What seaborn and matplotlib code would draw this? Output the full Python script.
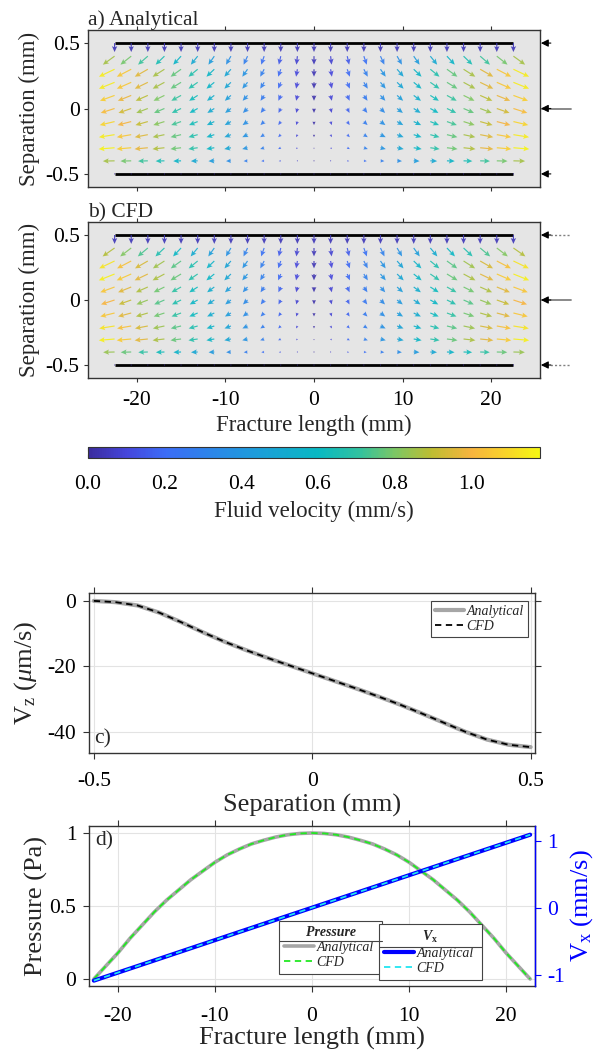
import numpy as np
import pandas as pd
import matplotlib
matplotlib.use("Agg")
import matplotlib.pyplot as plt
import seaborn as sns
from matplotlib.colors import LinearSegmentedColormap, Normalize
from matplotlib.cm import ScalarMappable
from matplotlib.lines import Line2D

# ---------------- data ----------------
# quiver grid (panels a, b)
frac_x = np.linspace(-22.5, 22.5, 25)          # mm along fracture
sep_rows = [0.5, 0.4, 0.3, 0.2, 0.1, 0.0, -0.1, -0.2, -0.3, -0.4, -0.5]
# horizontal velocity at the fracture ends (mm/s) per row, read from arrows
ux_end_analytical = [0.0, 0.86, 1.15, 1.15, 1.07, 1.02, 1.09, 1.15, 1.17, 0.86, 0.0]
ux_end_cfd = [0.0, 0.88, 1.13, 1.16, 1.05, 1.00, 1.05, 1.13, 1.16, 0.84, 0.0]
# vertical velocity (mm/s) per row
vz_rows_analytical = [-0.0446, -0.0423, -0.0371, -0.0316, -0.0267, -0.0221,
                      -0.0175, -0.0125, -0.0065, -0.0014, 0.0]
vz_rows_cfd = [-0.0446, -0.0421, -0.0369, -0.0318, -0.0265, -0.0222,
               -0.0176, -0.0123, -0.0067, -0.0015, 0.0]
plate_x = [-22.5, 22.5]
plate_y = [0.5, -0.5]
inlet_y = [0.5, 0.0, -0.5]
cbar_ticks = [0.0, 0.2, 0.4, 0.6, 0.8, 1.0]
vel_max = 1.18

# panel c: Vz across separation (um/s)
sep_c = [-0.5, -0.45, -0.4, -0.35, -0.3, -0.25, -0.2, -0.15, -0.1, -0.05, 0.0,
         0.05, 0.1, 0.15, 0.2, 0.25, 0.3, 0.35, 0.4, 0.45, 0.5]
vz_analytical = [0.0, -0.4, -1.4, -3.6, -6.5, -9.6, -12.5, -15.1, -17.5, -19.8, -22.1,
                 -24.4, -26.7, -29.1, -31.6, -34.3, -37.1, -39.9, -42.3, -43.9, -44.6]
vz_cfd = [0.0, -0.4, -1.4, -3.6, -6.5, -9.6, -12.5, -15.1, -17.5, -19.8, -22.1,
          -24.4, -26.7, -29.1, -31.6, -34.3, -37.1, -39.9, -42.3, -43.9, -44.6]

# panel d: pressure and Vx along fracture
len_d = [-22.5, -21.25, -20, -18.75, -17.5, -16.25, -15, -13.75, -12.5, -11.25,
         -10, -8.75, -7.5, -6.25, -5, -3.75, -2.5, -1.25, 0,
         1.25, 2.5, 3.75, 5, 6.25, 7.5, 8.75, 10, 11.25, 12.5,
         13.75, 15, 16.25, 17.5, 18.75, 20, 21.25, 22.5]
p_analytical = [0.0, 0.09, 0.18, 0.28, 0.37, 0.46, 0.54, 0.61, 0.68, 0.74,
                0.80, 0.85, 0.89, 0.925, 0.95, 0.972, 0.988, 0.997, 1.0,
                0.997, 0.988, 0.972, 0.95, 0.925, 0.89, 0.85, 0.80, 0.74, 0.68,
                0.61, 0.54, 0.46, 0.37, 0.28, 0.18, 0.09, 0.0]
p_cfd = [0.0, 0.09, 0.18, 0.28, 0.37, 0.46, 0.54, 0.61, 0.68, 0.74,
         0.80, 0.85, 0.89, 0.925, 0.95, 0.972, 0.988, 0.997, 1.0,
         0.997, 0.988, 0.972, 0.95, 0.925, 0.89, 0.85, 0.80, 0.74, 0.68,
         0.61, 0.54, 0.46, 0.37, 0.28, 0.18, 0.09, 0.0]
len_v = [-22.5, -15, -7.5, 0, 7.5, 15, 22.5]
vx_analytical = [-1.09, -0.727, -0.363, 0.0, 0.363, 0.727, 1.09]
vx_cfd = [-1.09, -0.727, -0.363, 0.0, 0.363, 0.727, 1.09]

# ---------------- style ----------------
sns.set_theme(style="white")
plt.rcParams["font.family"] = ["Liberation Serif", "DejaVu Serif"]
plt.rcParams["mathtext.fontset"] = "custom"
plt.rcParams["mathtext.rm"] = "Liberation Serif"
plt.rcParams["mathtext.it"] = "Liberation Serif:italic"
plt.rcParams["mathtext.bf"] = "Liberation Serif:bold"
plt.rcParams["axes.unicode_minus"] = False

parula = LinearSegmentedColormap.from_list("parula_like", [
    (0.0, "#3B2C9E"), (0.085, "#4546DC"), (0.17, "#3C6CF6"), (0.34, "#2196E0"),
    (0.51, "#08B9C2"), (0.60, "#30C2A0"), (0.68, "#7CC764"), (0.76, "#BDBD32"),
    (0.85, "#F7B43E"), (0.92, "#F8D12B"), (1.0, "#F5F713")])
norm = Normalize(0, vel_max)

W, H = 599, 1058
fig = plt.figure(figsize=(W / 100, H / 100), dpi=100)


def px_axes(l, t, r, b):
    return fig.add_axes([l / W, 1 - b / H, (r - l) / W, (b - t) / H])


FRAME = "#333333"
TICK_FS = 15.5


def style_frame(ax):
    for s in ax.spines.values():
        s.set_visible(True)
        s.set_color(FRAME)
        s.set_linewidth(1.0)


def draw_field(ax, ux_end, vz_rows, title, dotted_side):
    ax.set_facecolor("#E5E5E5")
    X, Y = np.meshgrid(frac_x, sep_rows)
    U = np.outer(ux_end, frac_x / frac_x.max())
    V = np.repeat(np.array(vz_rows)[:, None], len(frac_x), axis=1)
    M = np.hypot(U, V)
    ax.quiver(X, Y, U, V, M, cmap=parula, norm=norm, angles="xy",
              scale_units="xy", scale=0.65, width=0.0026, headwidth=4.5,
              headlength=5, headaxislength=4.2, pivot="tail", alpha=0.9,
              zorder=3)
    for yv in plate_y:
        ax.plot(plate_x, [yv, yv], color="black", lw=2, zorder=2,
                solid_capstyle="butt")
    ax.set_xlim(-25.5, 25.5)
    ax.set_ylim(-0.6, 0.6)
    ax.set_xticks([-20, -10, 0, 10, 20])
    ax.set_yticks([0.5, 0, -0.5])
    ax.set_yticklabels(["0.5", "0", "-0.5"])
    ax.tick_params(axis="x", direction="out", length=3, width=0.8, top=True,
                   bottom=True, labelsize=TICK_FS, colors=FRAME, labelcolor="black",
                   pad=6)
    ax.tick_params(axis="y", direction="out", length=3, width=0.8, left=True,
                   right=False, labelsize=TICK_FS, colors=FRAME, labelcolor="black",
                   pad=3)
    style_frame(ax)
    ax.set_ylabel("Separation (mm)", fontsize=16.5, labelpad=4)
    ax.text(0.0, 1.03, title, transform=ax.transAxes, fontsize=15.5,
            va="baseline", ha="left")
    trans = ax.get_yaxis_transform()
    for yv in inlet_y:
        if yv == 0:
            ax.plot([1.004, 1.068], [yv, yv], transform=trans, color="#808080",
                    lw=1.3, clip_on=False)
        elif dotted_side:
            ax.plot([1.004, 1.068], [yv, yv], transform=trans, color="#808080",
                    lw=1.0, ls=(0, (1.5, 1.5)), clip_on=False)
        ax.annotate("", xy=(1.002, yv), xycoords=trans, xytext=(1.024, yv),
                    textcoords=trans,
                    arrowprops=dict(arrowstyle="-|>", color="black", lw=0.8,
                                    mutation_scale=11, shrinkA=0, shrinkB=0))


# ---------------- panel a ----------------
ax_a = px_axes(88, 30, 540, 187)
draw_field(ax_a, ux_end_analytical, vz_rows_analytical, "a) Analytical", False)
ax_a.set_xticklabels([])

# ---------------- panel b ----------------
ax_b = px_axes(88, 222, 540, 378)
draw_field(ax_b, ux_end_cfd, vz_rows_cfd, "b) CFD", True)
ax_b.set_xticklabels(["-20", "-10", "0", "10", "20"])
ax_b.set_xlabel("Fracture length (mm)", fontsize=16.5, labelpad=4)

# ---------------- colorbar ----------------
cax = px_axes(88, 447, 540, 458)
cb = fig.colorbar(ScalarMappable(norm=norm, cmap=parula), cax=cax,
                  orientation="horizontal", ticks=cbar_ticks)
cb.ax.set_xticklabels([f"{t:.1f}" for t in cbar_ticks])
cb.ax.tick_params(direction="in", length=3, width=0.8, top=True, bottom=True,
                  labelsize=TICK_FS, colors="#555555", labelcolor="black", pad=12)
cb.outline.set_edgecolor(FRAME)
cb.outline.set_linewidth(0.8)
cb.set_label("Fluid velocity (mm/s)", fontsize=16.5, labelpad=5)

# ---------------- panel c ----------------
ax_c = px_axes(89, 593, 535, 753)
df_c = pd.DataFrame({"sep": sep_c, "ana": vz_analytical, "cfd": vz_cfd})
sns.lineplot(data=df_c, x="sep", y="ana", ax=ax_c, color="#A6A6A6", lw=3,
             label="Analytical")
sns.lineplot(data=df_c, x="sep", y="cfd", ax=ax_c, color="black", lw=1.3,
             ls=(0, (3.5, 2.5)), label="CFD")
ax_c.set_xlim(-0.511, 0.51)
ax_c.set_ylim(-46.4, 2.4)
ax_c.set_xticks([-0.5, 0, 0.5])
ax_c.set_xticklabels(["-0.5", "0", "0.5"])
ax_c.set_yticks([0, -20, -40])
ax_c.set_yticklabels(["0", "-20", "-40"])
ax_c.grid(True, color="#E3E3E3", lw=0.8)
ax_c.tick_params(axis="x", direction="out", length=4, width=0.8, top=True,
                 bottom=True, labelsize=TICK_FS, colors=FRAME,
                 labelcolor="black", pad=10)
ax_c.tick_params(axis="y", direction="out", length=4, width=0.8, right=True,
                 left=True, labelsize=TICK_FS, colors=FRAME,
                 labelcolor="black", pad=5)
style_frame(ax_c)
ax_c.set_xlabel("Separation (mm)", fontsize=19, labelpad=2)
ax_c.set_ylabel(r"V$_{\rm z}$ ($\mu$m/s)", fontsize=19, labelpad=6)
ax_c.text(0.012, 0.03, "c)", transform=ax_c.transAxes, fontsize=15.5,
          va="bottom", ha="left")
leg_c = ax_c.legend(loc="upper right", bbox_to_anchor=(0.984, 0.95),
                    borderaxespad=0, prop={"style": "italic", "size": 10},
                    handlelength=2.1, handletextpad=0.15, borderpad=0.3,
                    labelspacing=0.15, fancybox=False, framealpha=1,
                    edgecolor="#444444")
leg_c.get_frame().set_linewidth(0.8)

# ---------------- panel d ----------------
ax_d = px_axes(89, 826, 535, 986)
ax_d2 = ax_d.twinx()
df_d = pd.DataFrame({"x": len_d, "pa": p_analytical, "pc": p_cfd})
df_v = pd.DataFrame({"x": len_v, "va": vx_analytical, "vc": vx_cfd})
sns.lineplot(data=df_d, x="x", y="pa", ax=ax_d, color="#A6A6A6", lw=2.6,
             legend=False)
sns.lineplot(data=df_d, x="x", y="pc", ax=ax_d, color="#22E822", lw=1.3,
             ls=(0, (3.5, 2.5)), legend=False)
sns.lineplot(data=df_v, x="x", y="va", ax=ax_d2, color="#0000FF", lw=3,
             legend=False)
sns.lineplot(data=df_v, x="x", y="vc", ax=ax_d2, color="#22E5F0", lw=1.3,
             ls=(0, (3.5, 2.5)), legend=False)
ax_d.set_xlim(-23, 23)
ax_d.set_ylim(-0.048, 1.048)
ax_d2.set_ylim(-1.17, 1.22)
ax_d.set_xticks([-20, -10, 0, 10, 20])
ax_d.set_xticklabels(["-20", "-10", "0", "10", "20"])
ax_d.set_yticks([0, 0.5, 1])
ax_d.set_yticklabels(["0", "0.5", "1"])
ax_d2.set_yticks([-1, 0, 1])
ax_d2.set_yticklabels(["-1", "0", "1"])
ax_d.set_xlabel("")
ax_d2.set_xlabel("")
ax_d.grid(True, color="#E3E3E3", lw=0.8)
ax_d.tick_params(axis="x", direction="out", length=4, width=0.8, top=True,
                 bottom=True, labelsize=TICK_FS, colors=FRAME,
                 labelcolor="black", pad=11)
ax_d.tick_params(axis="y", direction="out", length=4, width=0.8, left=True,
                 right=False, labelsize=TICK_FS, colors=FRAME,
                 labelcolor="black", pad=5)
ax_d2.tick_params(direction="out", length=4, width=0.8, right=True, left=False,
                  labelsize=TICK_FS, colors="#0000FF", labelcolor="#0000FF", pad=5)
style_frame(ax_d)
for s in ax_d2.spines.values():
    s.set_visible(False)
ax_d2.spines["right"].set_visible(True)
ax_d2.spines["right"].set_color("#0000FF")
ax_d2.spines["right"].set_linewidth(1.0)
ax_d.set_xlabel("Fracture length (mm)", fontsize=19, labelpad=1)
ax_d.set_ylabel("Pressure (Pa)", fontsize=19, labelpad=1)
ax_d2.set_ylabel(r"V$_{\rm x}$ (mm/s)", fontsize=19, labelpad=2, color="#0000FF")
ax_d.text(0.015, 0.965, "d)", transform=ax_d.transAxes, fontsize=15.5,
          va="top", ha="left")

leg_kw = dict(prop={"style": "italic", "size": 10}, handlelength=2.2,
              handletextpad=0.15, borderpad=0.35, labelspacing=0.15,
              fancybox=False, framealpha=1, edgecolor="#444444",
              borderaxespad=0, loc="lower left",
              title_fontproperties={"weight": "bold", "style": "italic",
                                    "size": 10})
h_p = [Line2D([], [], color="#A6A6A6", lw=2.6),
       Line2D([], [], color="#22E822", lw=1.3, ls=(0, (3.5, 2.5)))]
h_v = [Line2D([], [], color="#0000FF", lw=3),
       Line2D([], [], color="#22E5F0", lw=1.3, ls=(0, (3.5, 2.5)))]
leg_p = ax_d2.legend(h_p, ["Analytical ", "CFD"], title="Pressure",
                     bbox_to_anchor=(0.426, 0.075), **leg_kw)
ax_d2.add_artist(leg_p)
leg_v = ax_d2.legend(h_v, ["Analytical ", "CFD"], title=r"V$_{\mathbf{x}}$",
                     bbox_to_anchor=(0.650, 0.0375), **leg_kw)
for lg in (leg_p, leg_v):
    lg.get_frame().set_linewidth(0.8)

fig.canvas.draw()
renderer = fig.canvas.get_renderer()
inv = fig.transFigure.inverted()
for lg in (leg_p, leg_v):
    fb = lg.get_frame().get_window_extent(renderer)
    tb = lg.get_title().get_window_extent(renderer)
    ysep = tb.y0 - 2
    (x0, y0), (x1, _) = inv.transform([(fb.x0, ysep), (fb.x1, ysep)])
    fig.add_artist(Line2D([x0, x1], [y0, y0], color="#444444", lw=0.8,
                          transform=fig.transFigure, zorder=10))

fig.savefig("out.png", dpi=100)
